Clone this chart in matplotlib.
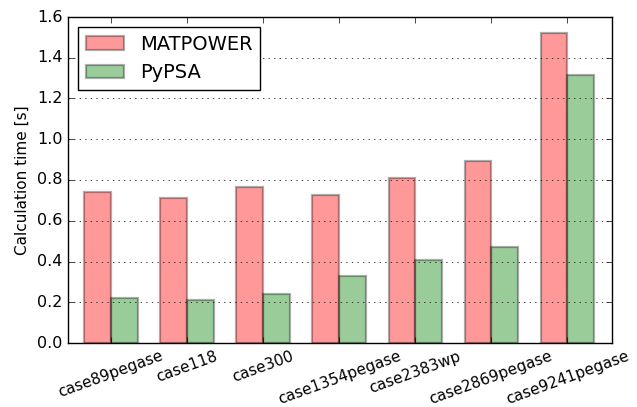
import matplotlib
matplotlib.use("Agg")
import matplotlib.pyplot as plt
import numpy as np

plt.style.use("classic")

cases = ["case89pegase", "case118", "case300", "case1354pegase",
         "case2383wp", "case2869pegase", "case9241pegase"]
matpower = [0.741, 0.711, 0.765, 0.728, 0.811, 0.894, 1.521]
pypsa = [0.222, 0.209, 0.242, 0.327, 0.408, 0.469, 1.316]

ind = np.arange(len(cases))
width = 0.35

fig = plt.figure(figsize=(6.37, 4.07), dpi=100, facecolor="white")
ax = fig.add_axes([68/637, 64/407, 544/637, 326/407])

ax.bar(ind, matpower, width, align="edge", facecolor=(1, 0, 0, 0.4),
       edgecolor=(0, 0, 0, 0.32), linewidth=1.6, label="MATPOWER")
ax.bar(ind + width, pypsa, width, align="edge", facecolor=(0, 0.5, 0, 0.4),
       edgecolor=(0, 0, 0, 0.32), linewidth=1.6, label="PyPSA")

ax.set_xlim(-0.216, 6.94)
ax.set_ylim(0, 1.6)
ax.set_yticks(np.arange(0, 1.61, 0.2))
ax.set_xticks(ind + width)
ax.set_xticklabels(cases, rotation=20, ha="center", fontsize=11)
ax.tick_params(axis="y", labelsize=11.5)
ax.yaxis.grid(True, linestyle=":", color="k")
ax.set_axisbelow(False)
ax.set_ylabel("Calculation time [s]", fontsize=11)

leg = ax.legend(loc="upper left", fontsize=14, fancybox=False)
leg.get_frame().set_edgecolor("k")

fig.savefig("out.png", dpi=100, facecolor="white")
